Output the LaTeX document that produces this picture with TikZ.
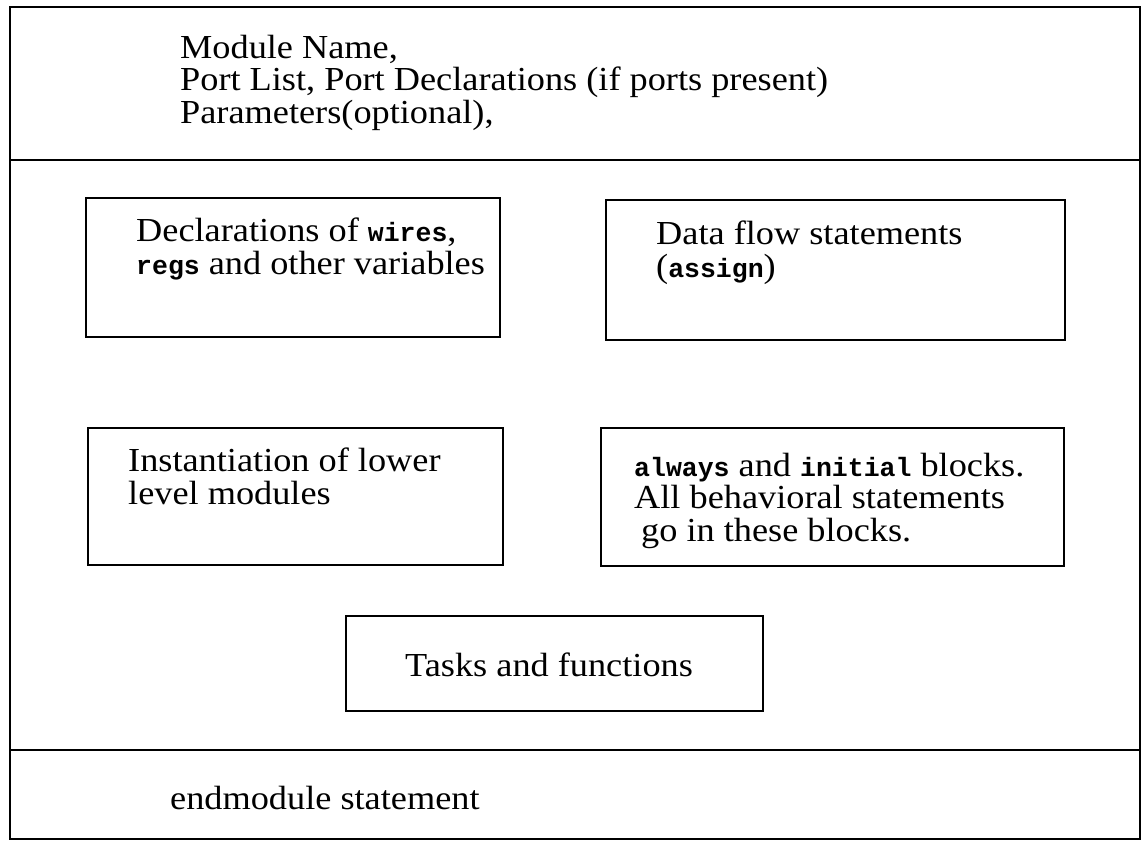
\documentclass[tikz,border=0pt]{standalone}
\usepackage{fontspec}
\setmainfont{Liberation Serif}[FakeStretch=1.08]
\setmonofont{Liberation Mono}
\usetikzlibrary{positioning}
% keywords in bold typewriter, set smaller than the body text
\newcommand{\kw}[1]{{\fontsize{26.5}{30}\selectfont\ttfamily\bfseries #1}}
\tikzset{
  frame/.style={draw=black, line width=1.8pt},
  blockbox/.style={draw=black, line width=1.7pt, rectangle, inner sep=0pt},
  txt/.style={anchor=north west, inner sep=0pt, align=left,
    font=\fontsize{33.6}{32.3}\selectfont},
}
\begin{document}
\begin{tikzpicture}[x=1pt, y=-1pt]
  \useasboundingbox (0,0) rectangle (1147,842);
  % outer module frame and its section dividers
  \coordinate (tl) at (10,7);
  \coordinate (br) at (1140,839);
  \draw[frame] (tl) rectangle (br);
  \coordinate (d1l) at (10,160);  \coordinate (d1r) at (1140,160);
  \coordinate (d2l) at (10,750);  \coordinate (d2r) at (1140,750);
  \draw[frame] (d1l) -- (d1r);
  \draw[frame] (d2l) -- (d2r);

  % header
  \node[txt] (head) at (180,35) {Module Name,\\Port List, Port Declarations (if ports present)\\Parameters(optional),};

  % inner blocks
  \node[blockbox, minimum width=414pt, minimum height=139pt] (decl)   at (293,267.5) {};
  \node[blockbox, minimum width=459pt, minimum height=140pt] (dflow)  at (835.5,270) {};
  \node[blockbox, minimum width=415pt, minimum height=137pt] (inst)   at (295.5,496.5) {};
  \node[blockbox, minimum width=463pt, minimum height=138pt] (behav)  at (832.5,497) {};
  \node[blockbox, minimum width=417pt, minimum height=95pt]  (tasks)  at (554.5,663.5) {};

  \node[txt] (decltxt)  at (136,218) {Declarations of \kw{wires},\\\kw{regs} and other variables};
  \node[txt] (dflowtxt) at (656,221) {Data flow statements\\(\kw{assign})};
  \node[txt] (insttxt)  at (128,448) {Instantiation of lower\\level modules};
  \node[txt] (behavtxt) at (634,453) {\kw{always} and \kw{initial} blocks.\\All behavioral statements\\\hspace*{7pt}go in these blocks.};
  \node[txt] (taskstxt) at (405,653) {Tasks and functions};

  % footer
  \node[txt] (foot) at (170,786) {endmodule statement};
\end{tikzpicture}
\end{document}
